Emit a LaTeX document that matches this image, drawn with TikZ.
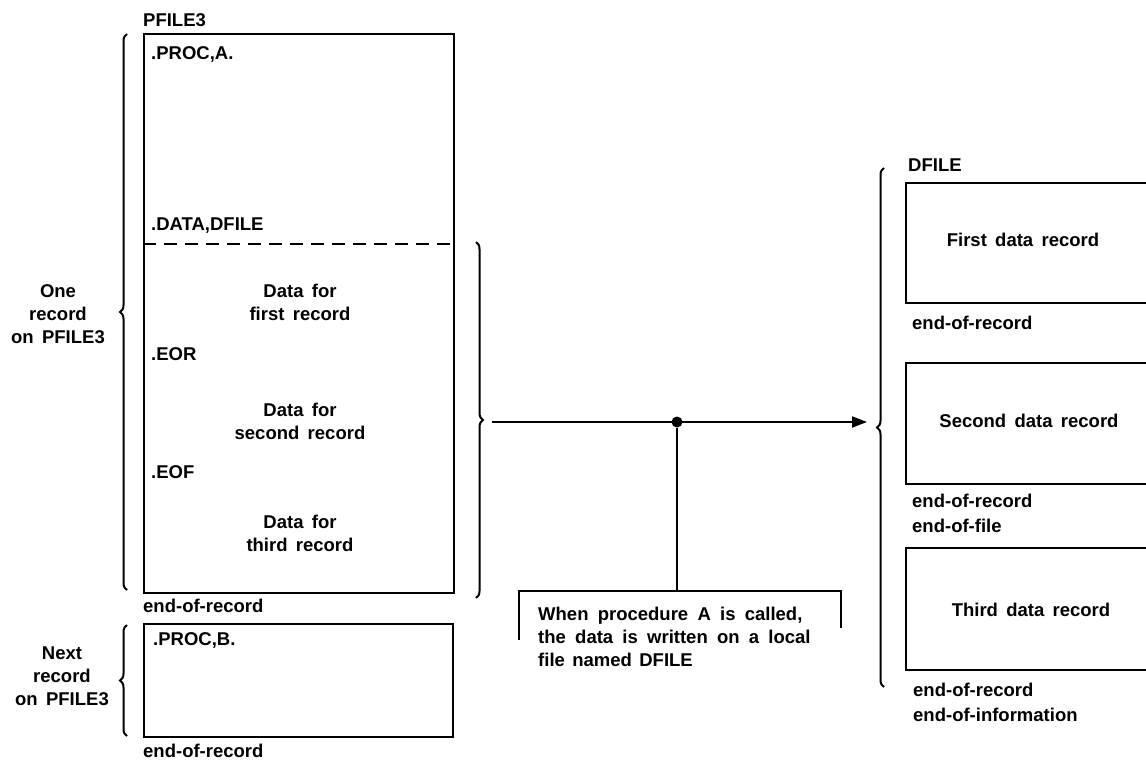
\documentclass[tikz,border=0pt]{standalone}
\usepackage{fontspec}
\setmainfont{Liberation Sans}
\usetikzlibrary{arrows.meta,decorations.pathreplacing}
\tikzset{
  box/.style={draw,line width=2.2pt,anchor=north west,inner sep=0pt},
  lbl/.style={font=\bfseries\fontsize{18.5}{23}\selectfont,inner sep=0pt},
  lft/.style={lbl,anchor=west},
  ctr/.style={lbl,align=center,anchor=center},
  brc/.style={draw,line width=2pt,decorate,decoration={brace,amplitude=7pt}},
  ln/.style={draw,line width=2pt}
}
\begin{document}
\begin{tikzpicture}[x=1pt,y=-1pt]
\useasboundingbox (0,0) rectangle (1146,763);
\clip (0,0) rectangle (1146,763);
% PFILE3 main box
\node[lft] (pf3) at (143,20) {PFILE3};
\node[box,minimum width=310pt,minimum height=559pt] (mainbox) at (143,33) {};
\node[lft] (proca) at (151,54) {.PROC,A.};
\node[lft] (datad) at (151,226) {.DATA,DFILE};
\coordinate (dl) at (143,244);
\coordinate (dr) at (453,244);
\draw[line width=2pt,dash pattern=on 13pt off 8pt] (dl) -- (dr);
\node[ctr] (d1) at (300,302) {Data\hspace{0.45em}for\\first\hspace{0.45em}record};
\node[lft] (eor) at (151,354) {.EOR};
\node[ctr] (d2) at (300,421) {Data\hspace{0.45em}for\\second\hspace{0.45em}record};
\node[lft] (eof) at (151,472) {.EOF};
\node[ctr] (d3) at (300,533) {Data\hspace{0.45em}for\\third\hspace{0.45em}record};
\node[lft] (eor1) at (143,606) {end-of-record};
% next record box
\node[box,minimum width=309pt,minimum height=113pt] (nextbox) at (143,623) {};
\node[lft] (procb) at (153,640) {.PROC,B.};
\node[lft] (eor2) at (143,751) {end-of-record};
% left labels and braces
\node[ctr] (one) at (58,314) {One\\record\\on\hspace{0.45em}PFILE3};
\node[ctr] (next) at (62,676) {Next\\record\\on\hspace{0.45em}PFILE3};
\coordinate (b1a) at (127,590);
\coordinate (b1b) at (127,34);
\draw[brc] (b1a) -- (b1b);
\coordinate (b2a) at (127,736);
\coordinate (b2b) at (127,625);
\draw[brc] (b2a) -- (b2b);
% right brace of data part
\coordinate (b3a) at (476,242);
\coordinate (b3b) at (476,598);
\draw[brc] (b3a) -- (b3b);
% arrow
\coordinate (arrS) at (492,422);
\coordinate (arrE) at (867,422);
\node[circle,fill,inner sep=0pt,minimum size=11pt] (dot) at (677,422) {};
\draw[ln,-{Triangle[length=15pt,width=11pt]}] (arrS) -- (arrE);
% callout
\coordinate (cl) at (519,640);
\coordinate (clt) at (519,591);
\coordinate (crt) at (841,591);
\coordinate (cr) at (841,628);
\coordinate (ctop) at (677,591);
\draw[ln] (dot) -- (ctop);
\draw[ln] (cl) -- (clt) -- (crt) -- (cr);
\node[lbl,anchor=north west,align=left] (note) at (538,607) {When\hspace{0.5em}procedure\hspace{0.5em}A\hspace{0.5em}is\hspace{0.5em}called,\\the\hspace{0.5em}data\hspace{0.5em}is\hspace{0.5em}written\hspace{0.5em}on\hspace{0.5em}a\hspace{0.5em}local\\file\hspace{0.4em}named\hspace{0.4em}DFILE};
% DFILE brace
\coordinate (b4a) at (884,687);
\coordinate (b4b) at (884,168);
\draw[brc] (b4a) -- (b4b);
\node[lft] (dfile) at (908,165) {DFILE};
\node[box,minimum width=260pt,minimum height=120pt] (r1) at (905,182) {};
\node[ctr] (r1t) at (1023,240) {First\hspace{0.45em}data\hspace{0.45em}record};
\node[lft] (e1) at (912,323) {end-of-record};
\node[box,minimum width=260pt,minimum height=121pt] (r2) at (905,362) {};
\node[ctr] (r2t) at (1029,421) {Second\hspace{0.45em}data\hspace{0.45em}record};
\node[lft] (e2) at (912,501) {end-of-record};
\node[lft] (e3) at (912,526) {end-of-file};
\node[box,minimum width=260pt,minimum height=122pt] (r3) at (905,547) {};
\node[ctr] (r3t) at (1031,610) {Third\hspace{0.45em}data\hspace{0.45em}record};
\node[lft] (e4) at (913,690) {end-of-record};
\node[lft] (e5) at (913,715) {end-of-information};
\end{tikzpicture}
\end{document}
